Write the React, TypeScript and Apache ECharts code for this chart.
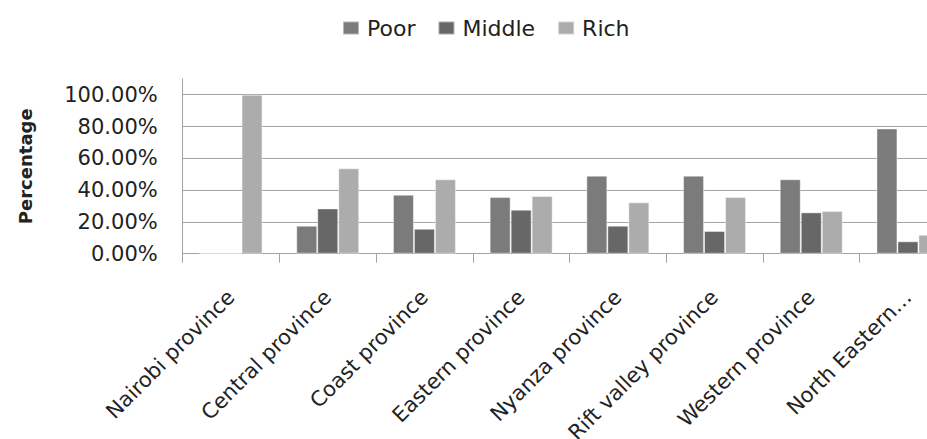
import React, { useEffect, useRef } from "react";
import * as echarts from "echarts";

const provinces = [
  "Nairobi province",
  "Central province",
  "Coast province",
  "Eastern province",
  "Nyanza province",
  "Rift valley province",
  "Western province",
  "North Eastern province",
];

const poor = [0, 17.6, 37.1, 35.6, 49.1, 49.1, 46.8, 78.8];
const middle = [0, 28.5, 15.7, 27.7, 17.6, 14.3, 26.0, 7.8];
const rich = [100, 53.7, 46.8, 36.3, 32.3, 35.6, 26.8, 11.9];

const seriesNames = ["Poor", "Middle", "Rich"];
const seriesColors = ["#7b7b7b", "#676767", "#acacac"];

const FONT = "DejaVu Sans";
const GRID_COLOR = "#a3a3a3";

export default function App() {
  const ref = useRef<HTMLDivElement>(null);

  useEffect(() => {
    if (!ref.current) return;
    const chart = echarts.init(ref.current, undefined, { renderer: "svg" });

    const bar = (name: string, data: number[], color: string) => ({
      name,
      type: "bar",
      data,
      barWidth: 21,
      barGap: "0%",
      itemStyle: { color, borderColor: "rgba(255,255,255,0.45)", borderWidth: 1 },
    });

    chart.setOption({
      animation: false,
      backgroundColor: "#ffffff",
      legend: {
        left: 337,
        top: 12,
        itemWidth: 16,
        itemHeight: 13,
        itemGap: 22,
        icon: "rect",
        data: seriesNames,
        textStyle: { fontFamily: FONT, fontSize: 22, color: "#222", padding: [0, 0, 0, 3] },
      },
      // the plot runs past the right edge of the visible frame
      grid: {
        left: 182.7,
        top: 78.8,
        width: 773.6,
        height: 174.9,
        containLabel: false,
        outerBoundsMode: "none",
      },
      xAxis: {
        type: "category",
        data: provinces,
        axisLine: { lineStyle: { color: GRID_COLOR, width: 1 } },
        axisTick: { show: true, length: 9, lineStyle: { color: GRID_COLOR } },
        axisLabel: {
          interval: 0,
          rotate: 45,
          margin: 40,
          fontFamily: FONT,
          fontSize: 21,
          color: "#222",
          formatter: (v: string) => (v.length > 21 ? v.slice(0, 13) + "…" : v),
        },
      },
      yAxis: {
        type: "value",
        min: 0,
        max: 110,
        interval: 20,
        name: "Percentage",
        nameLocation: "middle",
        nameRotate: 90,
        nameGap: 148,
        nameTextStyle: { fontFamily: FONT, fontSize: 18, fontWeight: "bold", color: "#222" },
        axisLine: { show: true, lineStyle: { color: GRID_COLOR, width: 1 } },
        axisTick: { show: false },
        axisLabel: {
          margin: 25,
          showMaxLabel: false,
          fontFamily: FONT,
          fontSize: 21,
          color: "#222",
          formatter: (v: number) => (v > 100 ? "" : v.toFixed(2) + "%"),
        },
        splitLine: { show: true, showMaxLine: false, lineStyle: { color: GRID_COLOR, width: 1 } },
      },
      series: [
        bar(seriesNames[0], poor, seriesColors[0]),
        bar(seriesNames[1], middle, seriesColors[1]),
        bar(seriesNames[2], rich, seriesColors[2]),
      ],
    });

    return () => chart.dispose();
  }, []);

  return (
    <div
      style={{
        position: "fixed",
        left: 0,
        top: 0,
        width: 927,
        height: 439,
        overflow: "hidden",
        background: "#ffffff",
      }}
    >
      <div ref={ref} style={{ width: 970, height: 439 }} />
    </div>
  );
}
